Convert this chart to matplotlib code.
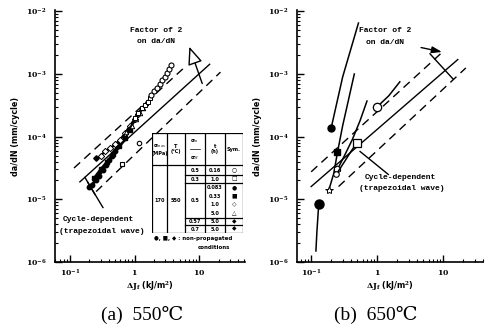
import matplotlib
matplotlib.use('Agg')
import matplotlib.pyplot as plt
from matplotlib.ticker import FixedLocator, FixedFormatter, LogLocator, NullFormatter

plt.rcParams['mathtext.fontset'] = 'dejavuserif'

# ---------------- data ----------------
# panel (a) 550C : reference lines (end points)
a_solid_x = [0.143, 14.5];  a_solid_y = [1.9e-5, 1.43e-3]
a_up_x = [0.116, 6.0];      a_up_y = [3.16e-5, 1.29e-3]
a_lo_x = [0.255, 21.3];     a_lo_y = [1.33e-5, 1.07e-3]

# panel (a) data series
a_fc_x = [0.20, 0.22, 0.25, 0.28, 0.32, 0.36, 0.40, 0.45, 0.50, 0.55, 0.60]
a_fc_y = [1.6e-5, 1.7e-5, 2.0e-5, 2.4e-5, 2.9e-5, 3.5e-5, 4.2e-5, 5.0e-5, 6.0e-5, 7.0e-5, 8.2e-5]
a_fs_x = [0.24, 0.30, 0.38, 0.47, 0.58, 0.70, 0.85]
a_fs_y = [2.2e-5, 3.0e-5, 4.0e-5, 5.2e-5, 7.0e-5, 9.5e-5, 1.3e-4]
a_od_x = [0.30, 0.35, 0.42, 0.50, 0.60, 0.72, 0.85, 1.00, 1.15]
a_od_y = [5.0e-5, 5.8e-5, 6.5e-5, 7.5e-5, 9.0e-5, 1.15e-4, 1.5e-4, 1.9e-4, 2.3e-4]
a_ot_x = [0.75, 0.90, 1.05, 1.20, 1.35, 1.50]
a_ot_y = [1.2e-4, 1.5e-4, 1.9e-4, 2.4e-4, 2.9e-4, 3.4e-4]
a_os_x = [1.00, 1.15, 1.30, 1.45, 1.60, 1.75]
a_os_y = [2.0e-4, 2.4e-4, 2.9e-4, 3.2e-4, 3.6e-4, 4.2e-4]
a_oc_x = [1.8, 2.0, 2.2, 2.45, 2.7, 2.95, 3.2, 3.45, 3.7]
a_oc_y = [4.6e-4, 5.3e-4, 6.0e-4, 7.0e-4, 8.0e-4, 9.0e-4, 1.05e-3, 1.2e-3, 1.4e-3]
a_iso_oc = (1.17, 8.0e-5)
a_iso_os = (0.64, 3.6e-5)
a_iso_fd = (0.25, 4.5e-5)

# panel (b) 650C : reference lines
b_solid_x = [0.10, 16.6];  b_solid_y = [1.6e-5, 1.7e-3]
b_up_x = [0.10, 10.0];     b_up_y = [2.75e-5, 2.3e-3]
b_lo_x = [0.26, 22.0];     b_lo_y = [1.6e-5, 1.25e-3]

# panel (b) curves
b_c1_x = [0.20, 0.30, 0.52];  b_c1_y = [1.35e-4, 9.0e-4, 6.5e-3]
b_c2_x = [0.185, 0.22, 0.25, 0.30, 0.37, 0.45]
b_c2_y = [1.4e-5, 2.6e-5, 5.6e-5, 1.5e-4, 4.0e-4, 1.0e-3]
b_c3_x = [0.25, 0.32, 0.42, 0.55, 0.70]
b_c3_y = [3.0e-5, 5.0e-5, 9.0e-5, 1.8e-4, 3.7e-4]
b_c4_x = [0.24, 0.32, 0.40, 0.49]
b_c4_y = [2.5e-5, 4.0e-5, 5.8e-5, 7.9e-5]
b_c5_x = [1.0, 1.5, 2.2];  b_c5_y = [3.0e-4, 4.5e-4, 7.5e-4]
b_c6_x = [0.13, 0.122, 0.118];  b_c6_y = [8.3e-6, 3.0e-6, 1.5e-6]

# table
tab_sigma = '170'
tab_T = '550'
tab_ratio = ['0.5', '0.3', '0.5', '0.57', '0.7']
tab_t = ['0.16', '1.0', '0.083', '0.33', '1.0', '5.0', '5.0', '5.0']
tab_sym = ['○', '□', '●', '■', '◇', '△', '◆', '◆']

yticks = [1e-6, 1e-5, 1e-4, 1e-3, 1e-2]
ytlabels = [r'$\mathbf{10^{-6}}$', r'$\mathbf{10^{-5}}$', r'$\mathbf{10^{-4}}$',
            r'$\mathbf{10^{-3}}$', r'$\mathbf{10^{-2}}$']
xticks = [0.1, 1, 10]
xtlabels = [r'$\mathbf{10^{-1}}$', r'$\mathbf{1}$', r'$\mathbf{10}$']

# ---------------- figure ----------------
W, H = 488, 331
fig = plt.figure(figsize=(4.88, 3.31), dpi=100)

def box(l, r, t, b):
    return [l / W, 1 - b / H, (r - l) / W, (b - t) / H]

axL = fig.add_axes(box(55, 245, 10, 262))
axR = fig.add_axes(box(297, 483, 10, 262))

mono = dict(family='Liberation Mono', weight='bold', fontsize=5.8)

def setup(ax, xlim):
    ax.set_xscale('log'); ax.set_yscale('log')
    ax.set_xlim(*xlim); ax.set_ylim(1e-6, 1.05e-2)
    for s in ['top', 'right']:
        ax.spines[s].set_visible(False)
    for s in ['left', 'bottom']:
        ax.spines[s].set_linewidth(1.2)
    ax.yaxis.set_major_locator(FixedLocator(yticks))
    ax.yaxis.set_major_formatter(FixedFormatter(ytlabels))
    ax.xaxis.set_major_locator(FixedLocator(xticks))
    ax.xaxis.set_major_formatter(FixedFormatter(xtlabels))
    ax.xaxis.set_minor_locator(LogLocator(base=10, subs=range(2, 10)))
    ax.yaxis.set_minor_locator(LogLocator(base=10, subs=range(2, 10)))
    ax.xaxis.set_minor_formatter(NullFormatter())
    ax.yaxis.set_minor_formatter(NullFormatter())
    ax.tick_params(which='major', direction='in', length=5, width=1.0, labelsize=5.5)
    ax.tick_params(which='minor', direction='in', length=2.5, width=0.8)
    ax.tick_params(axis='y', which='major', pad=6)
    ax.tick_params(axis='x', which='major', pad=4)
    ax.set_ylabel('da/dN (mm/cycle)', fontsize=5.8, fontweight='bold', labelpad=4)
    ax.set_xlabel(r'$\mathbf{\Delta J_f}$ (kJ/m$^\mathbf{2}$)', fontsize=5.8,
                  fontweight='bold', labelpad=0)

setup(axL, (0.059, 51))
setup(axR, (0.061, 40))

dash = dict(color='black', lw=1.0, linestyle=(0, (6, 4)))
# ---- panel (a)
axL.plot(a_solid_x, a_solid_y, color='black', lw=1.0)
axL.plot(a_up_x, a_up_y, **dash)
axL.plot(a_lo_x, a_lo_y, **dash)

ms = 3.2
axL.plot(a_fc_x, a_fc_y, '-o', color='black', ms=ms, lw=2.2)
axL.plot(a_fs_x, a_fs_y, '-s', color='black', ms=ms, lw=2.0)
axL.plot(a_od_x, a_od_y, '-D', color='black', mfc='white', ms=ms, lw=1.6, mew=0.7)
axL.plot(a_ot_x, a_ot_y, '-^', color='black', mfc='white', ms=ms, lw=1.6, mew=0.7)
axL.plot(a_os_x, a_os_y, '-s', color='black', mfc='white', ms=ms, lw=1.5, mew=0.7)
axL.plot(a_oc_x, a_oc_y, 'o', color='black', mfc='white', ms=3.6, mew=0.8)
axL.plot(*a_iso_oc, 'o', color='black', mfc='white', ms=3.2, mew=0.8)
axL.plot(*a_iso_os, 's', color='black', mfc='white', ms=3.2, mew=0.8)
axL.plot(*a_iso_fd, 'D', color='black', ms=2.8)

axL.text(0.53, 0.92, 'Factor of 2', transform=axL.transAxes, ha='center', va='center', **mono)
axL.text(0.53, 0.875, 'on da/dN', transform=axL.transAxes, ha='center', va='center', **mono)
axL.annotate('', xy=(6.8, 3.0e-3), xytext=(11.5, 6.4e-4),
             arrowprops=dict(arrowstyle='-|>,head_length=1.1,head_width=0.45',
                             fc='white', ec='black', lw=1.0))
axL.plot([0.171, 0.244], [2.24e-5, 1.2e-5], color='black', lw=1.0)
axL.plot([0.19, 0.325], [1.86e-5, 7.4e-6], color='black', lw=1.0)
axL.text(0.23, 0.167, 'Cycle-dependent', transform=axL.transAxes, ha='center', va='center', **mono)
axL.text(0.245, 0.123, '(trapezoidal wave)', transform=axL.transAxes, ha='center', va='center', **mono)

# ---- panel (b)
axR.plot(b_solid_x, b_solid_y, color='black', lw=1.0)
axR.plot(b_up_x, b_up_y, **dash)
axR.plot(b_lo_x, b_lo_y, **dash)

axR.plot(b_c1_x, b_c1_y, color='black', lw=1.1)
axR.plot(b_c1_x[0], b_c1_y[0], 'o', color='black', ms=5)
axR.plot(b_c2_x, b_c2_y, color='black', lw=1.1)
axR.plot(b_c2_x[2], b_c2_y[2], 's', color='black', ms=5)
axR.plot(b_c2_x[0], b_c2_y[0], '*', color='black', mfc='white', ms=6, mew=0.7)
axR.plot(b_c3_x, b_c3_y, color='black', lw=1.1)
axR.plot(b_c3_x[0], b_c3_y[0], 'h', color='black', mfc='white', ms=5, mew=0.8)
axR.plot(b_c4_x, b_c4_y, color='black', lw=1.1)
axR.plot(b_c4_x[0], b_c4_y[0], 'o', color='black', mfc='white', ms=4, mew=0.8)
axR.plot(b_c4_x[-1], b_c4_y[-1], 's', color='black', mfc='white', ms=6, mew=0.9)
axR.plot(b_c5_x, b_c5_y, color='black', lw=1.1)
axR.plot(b_c5_x[0], b_c5_y[0], 'o', color='black', mfc='white', ms=6, mew=0.9)
axR.plot(b_c6_x, b_c6_y, color='black', lw=1.1)
axR.plot(b_c6_x[0], b_c6_y[0], 'o', color='black', ms=6.5)

axR.text(0.473, 0.92, 'Factor of 2', transform=axR.transAxes, ha='center', va='center', **mono)
axR.text(0.473, 0.873, 'on da/dN', transform=axR.transAxes, ha='center', va='center', **mono)
axR.annotate('', xy=(10.5, 2.2e-3), xytext=(4.2, 2.7e-3),
             arrowprops=dict(arrowstyle='-|>,head_length=0.6,head_width=0.2',
                             fc='black', ec='black', lw=1.0))
axR.plot([6.3, 14.1], [2.1e-3, 8.3e-4], color='black', lw=1.0)
axR.plot([0.55, 1.47], [5.8e-5, 2.5e-5], color='black', lw=1.0)
axR.text(0.554, 0.337, 'Cycle-dependent', transform=axR.transAxes, ha='center', va='center', **mono)
axR.text(0.565, 0.29, '(trapezoidal wave)', transform=axR.transAxes, ha='center', va='center', **mono)

# ---- table inset (panel a)
tx = fig.add_axes(box(152, 243, 133, 233))
tx.set_xlim(152, 243); tx.set_ylim(233, 133); tx.axis('off')
lk = dict(color='black', lw=0.9)
tx.plot([152, 243, 243, 152, 152], [133, 133, 233, 233, 133], **lk)
for xv in [167, 185, 205, 225]:
    tx.plot([xv, xv], [133, 233], **lk)
tx.plot([152, 243], [165, 165], **lk)
for yv in [175, 183, 218, 225]:
    tx.plot([185, 243], [yv, yv], **lk)
fs = 3.6
tb = dict(ha='center', va='center', fontsize=fs, fontweight='bold')
tx.text(159.5, 149, 'σ$_{max}$\n(MPa)', **tb)
tx.text(176, 149, 'T\n(℃)', **tb)
tx.text(195, 141, 'σ$_m$', **tb)
tx.plot([190, 200], [149, 149], color='black', lw=0.5)
tx.text(195, 158, 'σ$_M$', **tb)
tx.text(215, 149, 't\n(h)', **tb)
tx.text(234, 149, 'Sym.', **tb)
tx.text(159.5, 200, tab_sigma, **tb)
tx.text(176, 200, tab_T, **tb)
ratio_y = [170, 179, 200, 221.5, 229]
for yv, s in zip(ratio_y, tab_ratio):
    tx.text(195, yv, s, **tb)
row_y = [170, 179, 187.5, 196, 204.5, 213, 221.5, 229]
for yv, s, m in zip(row_y, tab_t, tab_sym):
    tx.text(215, yv, s, **tb)
    tx.text(234, yv, m, ha='center', va='center', fontsize=4.2, family='DejaVu Sans')
tx.text(154, 238.5, '●, ■, ◆ : non-propagated', ha='left', va='center', fontsize=4.0,
        fontweight='bold', family='DejaVu Sans', clip_on=False)
tx.text(214, 247, 'conditions', ha='center', va='center', fontsize=4.0,
        fontweight='bold', family='DejaVu Sans', clip_on=False)

# ---- captions
cap = dict(fontsize=14, family=['Liberation Serif', 'DejaVu Serif'], ha='center', va='center')
fig.text(142 / W, 1 - 315 / H, '(a)  550℃', **cap)
fig.text(376 / W, 1 - 315 / H, '(b)  650℃', **cap)

fig.savefig('out.png', dpi=100)
